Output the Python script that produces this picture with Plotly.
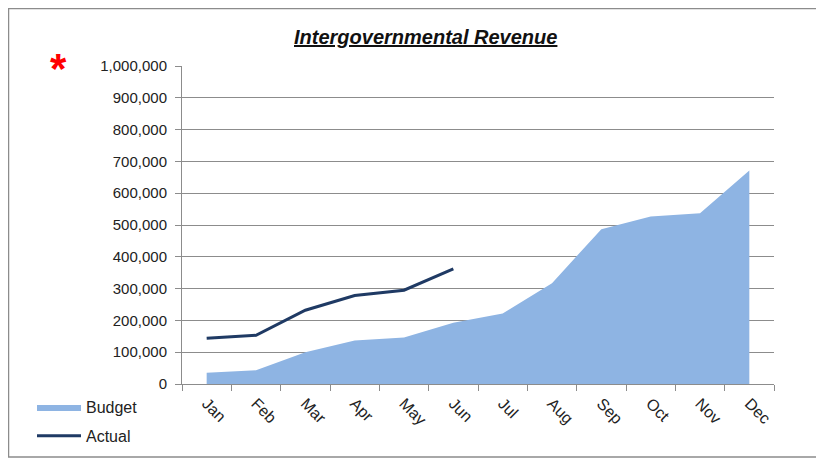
import plotly.graph_objects as go

months = ["Jan", "Feb", "Mar", "Apr", "May", "Jun", "Jul", "Aug", "Sep", "Oct", "Nov", "Dec"]
budget = [35500, 43000, 100000, 137000, 146000, 193000, 222000, 317000, 487000, 527000, 537000, 671000]
actual_months = ["Jan", "Feb", "Mar", "Apr", "May", "Jun"]
actual = [144000, 153000, 232000, 278000, 295000, 362000]
y_ticks = [0, 100000, 200000, 300000, 400000, 500000, 600000, 700000, 800000, 900000, 1000000]
title_text = "Intergovernmental Revenue"

FONT = "Liberation Sans, Arial, sans-serif"
GRID = "#8c8c8c"

W, H = 816, 450
# plot area in figure pixels
L, R, T, B = 174, 766, 58, 376
PW, PH = R - L, B - T


def px(x):
    return (x - L) / PW


def py(y):
    return (B - y) / PH


fig = go.Figure()
fig.add_trace(go.Scatter(
    x=months, y=budget, name="Budget", mode="lines",
    line=dict(width=0, color="#8EB4E3"), fill="tozeroy", fillcolor="#8EB4E3",
    legendgroup="b",
))
fig.add_trace(go.Scatter(
    x=actual_months, y=actual, name="Actual", mode="lines",
    line=dict(width=3, color="#1F3A64"), legendgroup="a",
))

fig.update_layout(
    width=W, height=H,
    margin=dict(l=L, r=W - R, t=T, b=H - B, autoexpand=False),
    paper_bgcolor="white", plot_bgcolor="white",
    font=dict(family=FONT, size=15, color="#222"),
    showlegend=True,
    legend=dict(x=px(24), y=py(382), xanchor="left", yanchor="top",
                bgcolor="rgba(0,0,0,0)", tracegroupgap=5, itemwidth=44,
                font=dict(size=16, color="#222")),
    xaxis=dict(type="category", categoryorder="array", categoryarray=months,
               range=[-0.5, 11.5], tickson="boundaries", ticks="outside", ticklen=6,
               tickcolor=GRID, showline=True, linecolor=GRID, linewidth=1,
               showgrid=False, tickangle=45, zeroline=False, automargin=False,
               ticklabelstandoff=3, tickfont=dict(size=16)),
    yaxis=dict(range=[0, 1000000], tickvals=y_ticks, tickformat=",d",
               ticks="outside", ticklen=6, tickcolor=GRID, showline=True,
               linecolor=GRID, linewidth=1, gridcolor=GRID, gridwidth=1,
               zeroline=False, automargin=False, ticklabelstandoff=5,
               tickfont=dict(size=15)),
    shapes=[dict(type="rect", xref="paper", yref="paper",
                 x0=px(0.5), x1=px(811), y0=py(449), y1=py(0.5),
                 line=dict(color="#8c8c8c", width=1.5), layer="below")],
    annotations=[
        dict(text="<b><i><u>" + title_text + "</u></i></b>", xref="paper", yref="paper",
             x=px(417), y=py(29), showarrow=False,
             xanchor="center", yanchor="middle", font=dict(size=20, color="#111")),
        dict(text="<b>*</b>", xref="paper", yref="paper", x=px(50), y=py(60),
             showarrow=False, xanchor="center", yanchor="middle",
             font=dict(size=42, color="#ff0000")),
    ],
)

fig.write_html("out.html")
